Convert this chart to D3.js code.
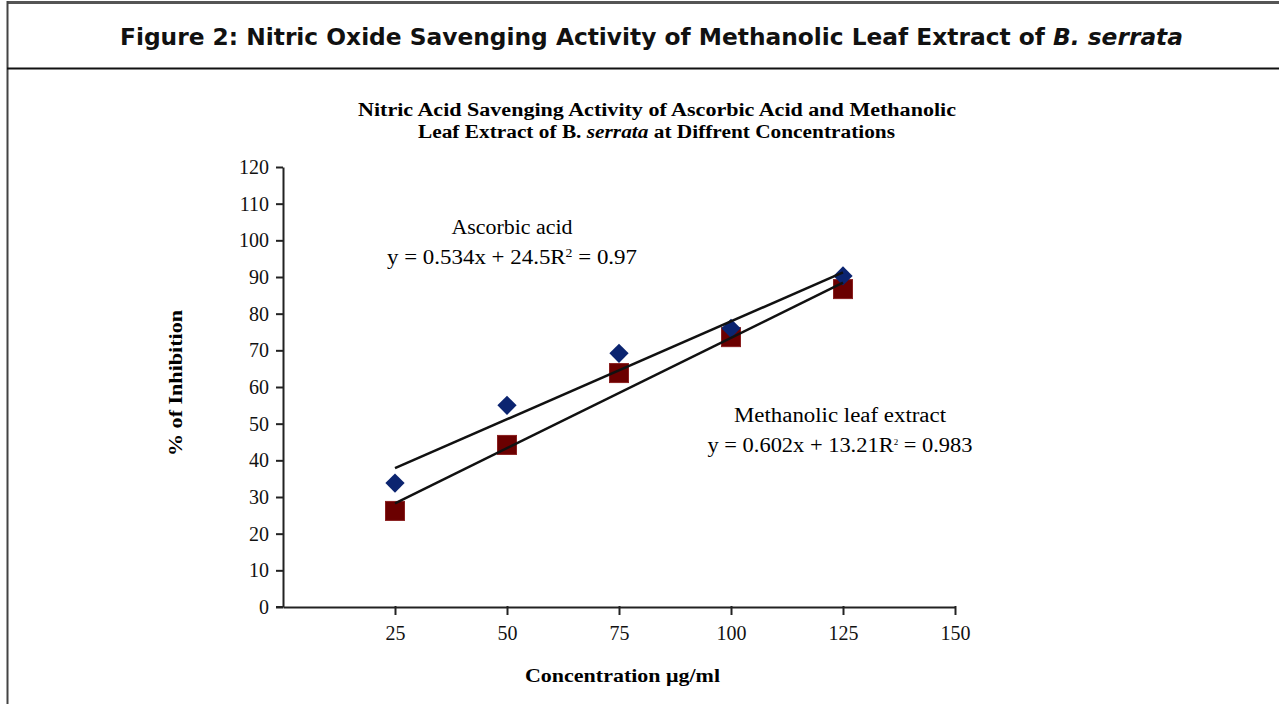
<!DOCTYPE html>
<html>
<head>
<meta charset="utf-8">
<script src="https://cdn.jsdelivr.net/npm/d3@7"></script>
<style>
  body { margin: 0; background: #fff; }
  svg { display: block; }
</style>
</head>
<body>
<svg id="chart" width="1279" height="704"></svg>
<script>
// data
var concentrations = [25, 50, 75, 100, 125];
var ascorbicAcid = [33.8, 55, 69.2, 76, 90.3];
var methanolicExtract = [26.2, 44.2, 63.8, 73.6, 86.7];
var xTicks = [25, 50, 75, 100, 125, 150];
var yTicks = [0, 10, 20, 30, 40, 50, 60, 70, 80, 90, 100, 110, 120];
// trendline coefficients from the labels
var ascorbicFit = {slope: 0.534, intercept: 24.5};
var methanolicFit = {slope: 0.602, intercept: 13.21};

var svg = d3.select('#chart');
var serif = '"Liberation Serif", "DejaVu Serif", serif';

// frame of the figure box
svg.append('line').attr('x1', 7).attr('x2', 1279).attr('y1', 2.5).attr('y2', 2.5)
    .attr('stroke', '#555').attr('stroke-width', 3);
svg.append('line').attr('x1', 7.5).attr('x2', 7.5).attr('y1', 1).attr('y2', 704)
    .attr('stroke', '#444').attr('stroke-width', 2);
svg.append('line').attr('x1', 7).attr('x2', 1279).attr('y1', 68.5).attr('y2', 68.5)
    .attr('stroke', '#111').attr('stroke-width', 2);

var header = svg.append('text')
    .attr('x', 651.5).attr('y', 45)
    .attr('text-anchor', 'middle')
    .attr('textLength', 1063).attr('lengthAdjust', 'spacingAndGlyphs')
    .style('font-family', '"DejaVu Sans", Verdana, sans-serif')
    .style('font-weight', 'bold')
    .style('font-size', '23px')
    .attr('fill', '#111');
header.append('tspan').text('Figure 2: Nitric Oxide Savenging Activity of Methanolic Leaf Extract of ');
header.append('tspan').style('font-style', 'italic').text('B. serrata');

// chart title
svg.append('text')
    .attr('x', 657).attr('y', 116)
    .attr('text-anchor', 'middle')
    .attr('textLength', 598).attr('lengthAdjust', 'spacingAndGlyphs')
    .style('font-family', serif).style('font-weight', 'bold').style('font-size', '18px')
    .text('Nitric Acid Savenging Activity of Ascorbic Acid and Methanolic');
var t2 = svg.append('text')
    .attr('x', 656.5).attr('y', 138)
    .attr('text-anchor', 'middle')
    .attr('textLength', 477).attr('lengthAdjust', 'spacingAndGlyphs')
    .style('font-family', serif).style('font-weight', 'bold').style('font-size', '18px');
t2.append('tspan').text('Leaf Extract of B. ');
t2.append('tspan').style('font-style', 'italic').text('serrata');
t2.append('tspan').text(' at Diffrent Concentrations');

var x = d3.scaleLinear().domain([0, 150]).range([283, 955]);
var y = d3.scaleLinear().domain([0, 120]).range([607, 167]);

var xAxis = svg.append('g')
    .attr('transform', 'translate(0,' + y(0) + ')')
    .call(d3.axisBottom(x).tickValues(xTicks).tickSize(7).tickSizeOuter(0).tickPadding(12));
var yAxis = svg.append('g')
    .attr('transform', 'translate(' + x(0) + ',0)')
    .call(d3.axisLeft(y).tickValues(yTicks).tickSize(7).tickSizeOuter(0).tickPadding(7));

[xAxis, yAxis].forEach(function(g) {
    g.select('.domain').attr('stroke', '#222').attr('stroke-width', 2);
    g.selectAll('.tick line').attr('stroke', '#222').attr('stroke-width', 2);
    g.selectAll('.tick text')
        .style('font-family', serif).style('font-size', '20px').attr('fill', '#111');
});
xAxis.selectAll('.tick line').attr('y1', -1).attr('y2', 8);
// little stub left of the origin
svg.append('line').attr('x1', x(0) - 7).attr('x2', x(0)).attr('y1', y(0)).attr('y2', y(0))
    .attr('stroke', '#222').attr('stroke-width', 2);

// axis titles
svg.append('text')
    .attr('x', 622.5).attr('y', 682)
    .attr('text-anchor', 'middle')
    .attr('textLength', 195).attr('lengthAdjust', 'spacingAndGlyphs')
    .style('font-family', serif).style('font-weight', 'bold').style('font-size', '19px')
    .text('Concentration \u03bcg/ml');
svg.append('text')
    .attr('transform', 'translate(182,383) rotate(-90)')
    .attr('text-anchor', 'middle')
    .attr('textLength', 146).attr('lengthAdjust', 'spacingAndGlyphs')
    .style('font-family', serif).style('font-weight', 'bold').style('font-size', '19px')
    .text('% of Inhibition');

// markers
var squareSize = 19;
svg.append('g').selectAll('rect')
    .data(concentrations)
    .join('rect')
    .attr('x', function(d) { return x(d) - squareSize / 2; })
    .attr('y', function(d, i) { return y(methanolicExtract[i]) - squareSize / 2; })
    .attr('width', squareSize).attr('height', squareSize)
    .attr('fill', '#6b0000').attr('stroke', '#8a2020').attr('stroke-width', 1);

svg.append('g').selectAll('path')
    .data(concentrations)
    .join('path')
    .attr('transform', function(d, i) { return 'translate(' + x(d) + ',' + y(ascorbicAcid[i]) + ') rotate(45)'; })
    .attr('d', d3.symbol().type(d3.symbolSquare).size(185))
    .attr('fill', '#0b2470');

// trendlines
function fitLine(fit) {
    return [25, 125].map(function(c) { return [x(c), y(fit.slope * c + fit.intercept)]; });
}
var line = d3.line();
[ascorbicFit, methanolicFit].forEach(function(fit) {
    svg.append('path')
        .attr('d', line(fitLine(fit)))
        .attr('fill', 'none').attr('stroke', '#111').attr('stroke-width', 2.5);
});

// equation labels
function label(cx, cy, name, nameWidth, a, b, r2, eqWidth, supSize) {
    svg.append('text').attr('x', cx).attr('y', cy)
        .attr('text-anchor', 'middle')
        .attr('textLength', nameWidth).attr('lengthAdjust', 'spacingAndGlyphs')
        .style('font-family', serif).style('font-size', '20px')
        .text(name);
    var eq = svg.append('text').attr('x', cx).attr('y', cy + 30)
        .attr('text-anchor', 'middle')
        .attr('textLength', eqWidth).attr('lengthAdjust', 'spacingAndGlyphs')
        .style('font-family', serif).style('font-size', '20px');
    eq.append('tspan').text('y = ' + a + 'x  +  ' + b + 'R');
    eq.append('tspan').attr('dy', -7).style('font-size', supSize).text('2');
    eq.append('tspan').attr('dy', 7).text(' = ' + r2);
}
label(512, 234, 'Ascorbic acid', 121, ascorbicFit.slope, ascorbicFit.intercept, '0.97', 250, '12px');
label(840, 422, 'Methanolic leaf extract', 212, methanolicFit.slope, methanolicFit.intercept, '0.983', 265, '8px');
</script>
</body>
</html>
